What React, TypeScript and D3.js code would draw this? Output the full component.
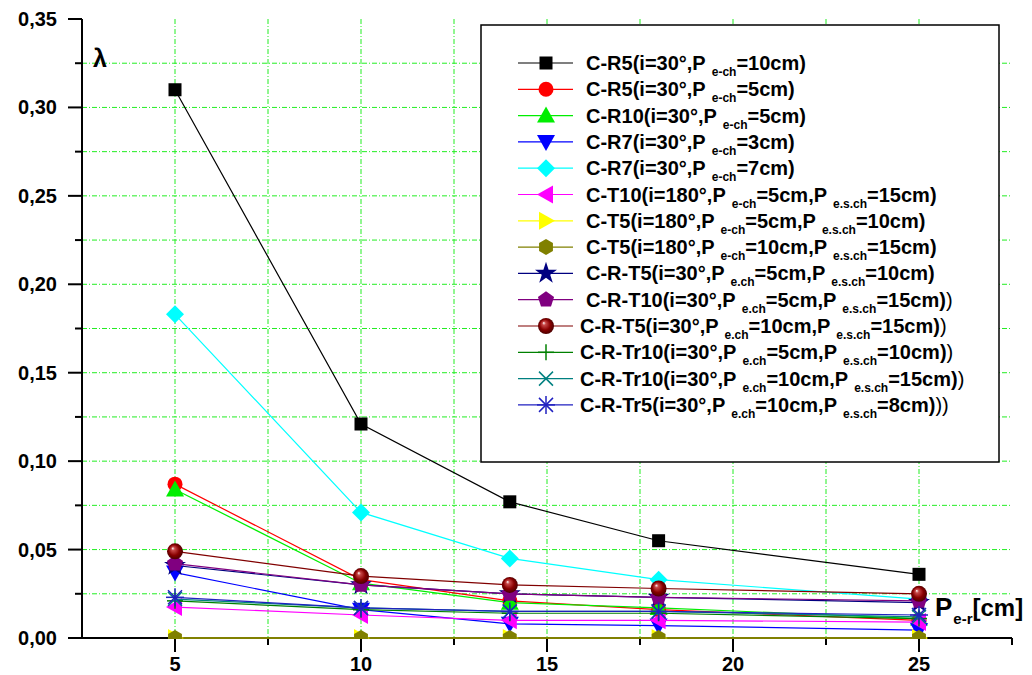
import React from "react";
import * as d3 from "d3";

// ---------- data ----------
const xValues = [5, 10, 14, 18, 25];

const cR5_10 = [0.31, 0.121, 0.077, 0.055, 0.036];
const cR5_5 = [0.087, 0.033, 0.021, 0.016, 0.01];
const cR10_5 = [0.084, 0.031, 0.02, 0.017, 0.011];
const cR7_3 = [0.037, 0.016, 0.008, 0.007, 0.0045];
const cR7_7 = [0.183, 0.071, 0.045, 0.033, 0.022];
const cT10 = [0.0175, 0.013, 0.01, 0.01, 0.009];
const cT5_5 = [0, 0, 0, 0, 0];
const cT5_10 = [0, 0, 0, 0, 0];
const cRT5_5 = [0.041, 0.03, 0.025, 0.023, 0.02];
const cRT10_5 = [0.042, 0.03, 0.025, 0.023, 0.021];
const cRT5_10 = [0.049, 0.035, 0.03, 0.028, 0.025];
const cRTr10_5 = [0.021, 0.016, 0.014, 0.014, 0.011];
const cRTr10_10 = [0.022, 0.017, 0.015, 0.015, 0.012];
const cRTr5_10 = [0.023, 0.017, 0.015, 0.015, 0.013];

const yTicks = [0, 0.05, 0.1, 0.15, 0.2, 0.25, 0.3, 0.35];
const yMinor = [0.025, 0.075, 0.125, 0.175, 0.225, 0.275, 0.325];
const xTicks = [5, 10, 15, 20, 25];
const xMinor = [7.5, 12.5, 17.5, 22.5, 27.5];

// legend label parts: even = main text, odd = subscript; thin = trailing normal-weight text
const series = [
  { values: cR5_10, color: "#000000", marker: "square", parts: ["C-R5(i=30°,P", "e-ch", "=10cm)"], thin: "" },
  { values: cR5_5, color: "#ff0000", marker: "circle", parts: ["C-R5(i=30°,P", "e-ch", "=5cm)"], thin: "" },
  { values: cR10_5, color: "#00ee00", marker: "triUp", parts: ["C-R10(i=30°,P", "e-ch", "=5cm)"], thin: "" },
  { values: cR7_3, color: "#0000ff", marker: "triDown", parts: ["C-R7(i=30°,P", "e-ch", "=3cm)"], thin: "" },
  { values: cR7_7, color: "#00ffff", marker: "diamond", parts: ["C-R7(i=30°,P", "e-ch", "=7cm)"], thin: "" },
  { values: cT10, color: "#ff00ff", marker: "triLeft", parts: ["C-T10(i=180°,P", "e-ch", "=5cm,P", "e.s.ch", "=15cm)"], thin: "" },
  { values: cT5_5, color: "#ffff00", marker: "triRight", parts: ["C-T5(i=180°,P", "e-ch", "=5cm,P", "e.s.ch", "=10cm)"], thin: "" },
  { values: cT5_10, color: "#808000", marker: "hexagon", parts: ["C-T5(i=180°,P", "e-ch", "=10cm,P", "e.s.ch", "=15cm)"], thin: "" },
  { values: cRT5_5, color: "#000080", marker: "star", parts: ["C-R-T5(i=30°,P", "e.ch", "=5cm,P", "e.s.ch", "=10cm)"], thin: "" },
  { values: cRT10_5, color: "#800080", marker: "pentagon", parts: ["C-R-T10(i=30°,P", "e.ch", "=5cm,P", "e.s.ch", "=15cm)"], thin: ")" },
  { values: cRT5_10, color: "#800000", marker: "ball", parts: ["C-R-T5(i=30°,P", "e.ch", "=10cm,P", "e.s.ch", "=15cm)"], thin: ")" },
  { values: cRTr10_5, color: "#008000", marker: "plus", parts: ["C-R-Tr10(i=30°,P", "e.ch", "=5cm,P", "e.s.ch", "=10cm)"], thin: ")" },
  { values: cRTr10_10, color: "#008080", marker: "cross", parts: ["C-R-Tr10(i=30°,P", "e.ch", "=10cm,P", "e.s.ch", "=15cm)"], thin: ")" },
  { values: cRTr5_10, color: "#2020c0", marker: "asterisk", parts: ["C-R-Tr5(i=30°,P", "e.ch", "=10cm,P", "e.s.ch", "=8cm)"], thin: "))" },
];

// ---------- layout ----------
const W = 1032;
const H = 675;
const L = 82, R = 1012, T = 19, B = 638;
const FONT = "'Liberation Sans', Arial, sans-serif";

const x = d3.scaleLinear().domain([2.5, 27.5]).range([L, R]);
const y = d3.scaleLinear().domain([0, 0.35]).range([B, T]);
const fmt = (v: number) => d3.format(".2f")(v).replace(".", ",");

function poly(pts: number[][]) {
  return pts.map((p) => p.join(",")).join(" ");
}

function Marker({ type, cx, cy, color }: { type: string; cx: number; cy: number; color: string }) {
  const t = `translate(${cx},${cy})`;
  switch (type) {
    case "square":
      return <rect x={cx - 6.5} y={cy - 6.5} width={13} height={13} fill={color} />;
    case "circle":
      return <circle cx={cx} cy={cy} r={7.5} fill={color} />;
    case "triUp":
      return <polygon transform={t} points={poly([[0, -9], [9, 7], [-9, 7]])} fill={color} />;
    case "triDown":
      return <polygon transform={t} points={poly([[0, 9], [9, -7], [-9, -7]])} fill={color} />;
    case "triLeft":
      return <polygon transform={t} points={poly([[-9, 0], [7, -9], [7, 9]])} fill={color} />;
    case "triRight":
      return <polygon transform={t} points={poly([[9, 0], [-7, -9], [-7, 9]])} fill={color} />;
    case "diamond":
      return <polygon transform={t} points={poly([[0, -9], [9, 0], [0, 9], [-9, 0]])} fill={color} />;
    case "hexagon": {
      const pts = d3.range(6).map((i) => {
        const a = (Math.PI / 3) * i + Math.PI / 6;
        return [8 * Math.cos(a), 8 * Math.sin(a)];
      });
      return <polygon transform={t} points={poly(pts)} fill={color} />;
    }
    case "pentagon": {
      const pts = d3.range(5).map((i) => {
        const a = (2 * Math.PI / 5) * i - Math.PI / 2;
        return [8.5 * Math.cos(a), 8.5 * Math.sin(a)];
      });
      return <polygon transform={t} points={poly(pts)} fill={color} />;
    }
    case "star":
      return <path transform={t} d={d3.symbol(d3.symbolStar, 150)() || ""} fill={color} />;
    case "ball":
      return <circle cx={cx} cy={cy} r={8} fill="url(#ballGrad)" />;
    case "plus":
      return (
        <g transform={t} stroke={color} strokeWidth={1.5}>
          <line x1={-8} y1={0} x2={8} y2={0} />
          <line x1={0} y1={-8} x2={0} y2={8} />
        </g>
      );
    case "cross":
      return (
        <g transform={t} stroke={color} strokeWidth={1.5}>
          <line x1={-7} y1={-7} x2={7} y2={7} />
          <line x1={-7} y1={7} x2={7} y2={-7} />
        </g>
      );
    case "asterisk":
      return (
        <g transform={t} stroke={color} strokeWidth={1.5}>
          <line x1={-7} y1={-7} x2={7} y2={7} />
          <line x1={-7} y1={7} x2={7} y2={-7} />
          <line x1={0} y1={-9} x2={0} y2={9} />
          <line x1={-9} y1={0} x2={9} y2={0} />
        </g>
      );
  }
  return null;
}

const line = d3
  .line<[number, number]>()
  .x((d) => x(d[0]))
  .y((d) => y(d[1]));

export default function App() {
  const gridColor = "#22ee22";
  const dash = "5,2,1,2";
  const legX = 481, legY = 25, legW = 518, legH = 437;
  const rowY0 = 63, rowStep = 26.3;

  return (
    <svg width={W} height={H} style={{ position: "absolute", left: 0, top: 0, background: "#fff" }} fontFamily={FONT}>
      <defs>
        <radialGradient id="ballGrad" cx="0.5" cy="0.5" r="0.55" fx="0.35" fy="0.3">
          <stop offset="0" stopColor="#ffffff" />
          <stop offset="0.2" stopColor="#c84848" />
          <stop offset="0.6" stopColor="#880000" />
          <stop offset="1" stopColor="#400000" />
        </radialGradient>
        <clipPath id="plotClip">
          <rect x={L} y={T - 2} width={R - L} height={B - T + 3} />
        </clipPath>
      </defs>
      <rect x={0} y={0} width={W} height={H} fill="#fff" />

      {/* grid */}
      <g stroke={gridColor} strokeWidth={1} strokeDasharray={dash}>
        {[...xTicks, ...xMinor.filter((v) => v < 27.5)].map((v) => (
          <line key={"gx" + v} x1={x(v)} x2={x(v)} y1={T} y2={B} />
        ))}
        {[...yTicks.filter((v) => v > 0 && v < 0.35), ...yMinor].map((v) => (
          <line key={"gy" + v} x1={L} x2={R} y1={y(v)} y2={y(v)} />
        ))}
      </g>

      {/* axes */}
      <g stroke="#000" strokeWidth={2}>
        <line x1={L} x2={L} y1={T} y2={B + 1} />
        <line x1={L - 1} x2={R} y1={B} y2={B} />
        {yTicks.map((v) => (
          <line key={"ty" + v} x1={L - 14} x2={L} y1={y(v)} y2={y(v)} />
        ))}
        {yMinor.map((v) => (
          <line key={"tym" + v} x1={L - 7} x2={L} y1={y(v)} y2={y(v)} />
        ))}
        {xTicks.map((v) => (
          <line key={"tx" + v} x1={x(v)} x2={x(v)} y1={B} y2={B + 14} />
        ))}
        {xMinor.map((v) => (
          <line key={"txm" + v} x1={x(v)} x2={x(v)} y1={B} y2={B + 7} />
        ))}
      </g>
      <g fontSize={20} fontWeight="bold" fill="#000">
        {yTicks.map((v) => (
          <text key={"ly" + v} x={57} y={y(v) + 7} textAnchor="end">
            {fmt(v)}
          </text>
        ))}
        {xTicks.map((v) => (
          <text key={"lx" + v} x={x(v)} y={671} textAnchor="middle">
            {v}
          </text>
        ))}
      </g>

      {/* axis titles */}
      <text x={93} y={67} fontSize={25} fontWeight="bold">λ</text>
      <text x={935} y={616} fontWeight="bold" fontSize={26}>
        P
        <tspan fontSize={15} dy={8} dx={1}>e-r</tspan>
        <tspan fontSize={24} dy={-8}>[cm]</tspan>
      </text>

      {/* data */}
      <g clipPath="url(#plotClip)">
        {series.map((s, i) => {
          const pts = xValues.map((xv, j) => [xv, s.values[j]] as [number, number]);
          return (
            <g key={"s" + i}>
              <path d={line(pts) || ""} fill="none" stroke={s.color} strokeWidth={1.2} />
              {pts.map((p, j) => (
                <Marker key={j} type={s.marker} cx={x(p[0])} cy={y(p[1])} color={s.color} />
              ))}
            </g>
          );
        })}
      </g>

      {/* legend */}
      <rect x={legX} y={legY} width={legW} height={legH} fill="#fff" stroke="#000" strokeWidth={1.5} />
      {series.map((s, i) => {
        const cy = rowY0 + i * rowStep;
        const tx = i >= 10 ? 580 : 586;
        return (
          <g key={"lg" + i}>
            <line x1={518} x2={573} y1={cy} y2={cy} stroke={s.color} strokeWidth={1.2} />
            <Marker type={s.marker} cx={546} cy={cy} color={s.color} />
            <text x={tx} y={cy + 7} fontSize={20} fontWeight="bold">
              {s.parts.map((p, k) =>
                k % 2 === 0 ? (
                  <tspan key={k} dy={k > 0 ? -6 : 0}>{p}</tspan>
                ) : (
                  <tspan key={k} fontSize={12} dx={6} dy={6}>{p}</tspan>
                )
              )}
              {s.thin ? <tspan fontWeight="normal">{s.thin}</tspan> : null}
            </text>
          </g>
        );
      })}
    </svg>
  );
}
